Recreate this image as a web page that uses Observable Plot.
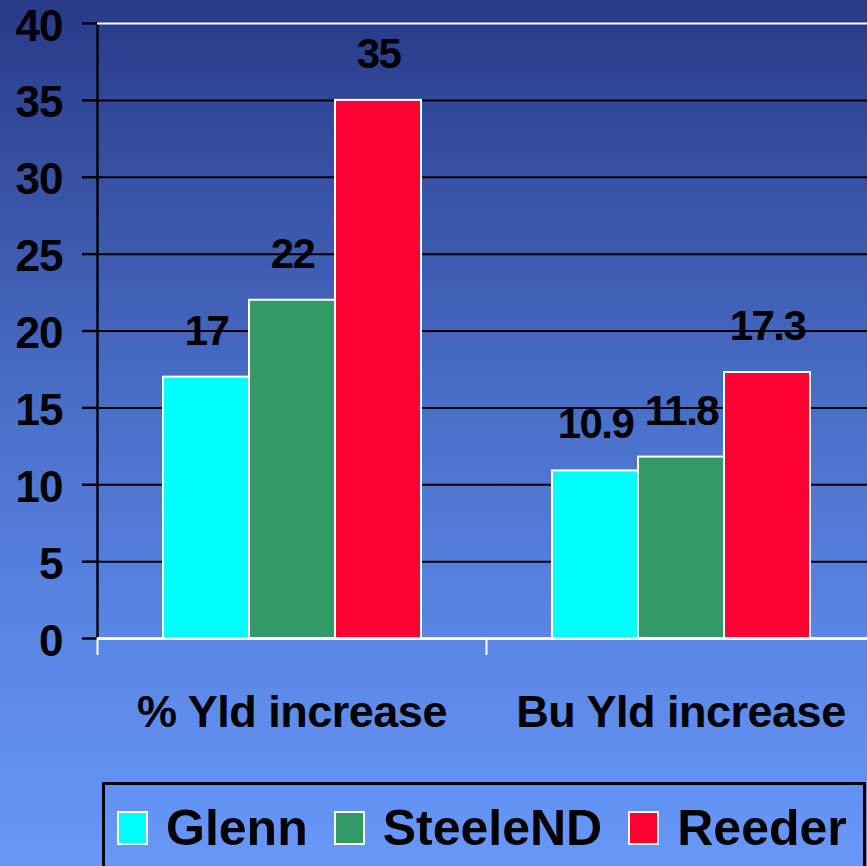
<!DOCTYPE html>
<html>
<head>
<meta charset="utf-8">
<script src="https://cdn.jsdelivr.net/npm/d3@7"></script>
<script src="https://cdn.jsdelivr.net/npm/@observablehq/plot@0.6"></script>
<style>
  html, body { margin: 0; padding: 0; }
  body { width: 867px; height: 866px; overflow: hidden;
         background: linear-gradient(to bottom, #283a88 0%, #3b56aa 25%, #4b72cc 50%, #5b88e6 76%, #6897fa 100%); }
  #wrap { position: relative; width: 867px; height: 866px; overflow: hidden;
          font-family: "Liberation Sans", Arial, sans-serif; font-weight: bold; }
  #chart svg { display: block; }
  g[aria-label="y-axis tick label"] { translate: 0 3px; }
  g[aria-label="y-axis tick label"] text { letter-spacing: -1px; }
  g[aria-label="fx-axis tick label"] text { letter-spacing: -0.5px; }
  g[aria-label="text"] text { letter-spacing: -1.5px; }
  #chart svg g[aria-label^="y-axis"] *,
  #chart svg g[aria-label="frame"] * { stroke-width: 2.4px !important; }
  #legend { position: absolute; left: 102px; top: 782px; width: 764px; height: 91px;
            border: 3px solid #000; display: flex; align-items: center; padding-left: 12px;
            box-sizing: border-box; }
  .item { display: flex; align-items: center; margin-right: 26px; }
  .sw { width: 27px; height: 30px; border: 2px solid #fff; margin-right: 18px; }
  .lab { font-size: 50px; color: #000; line-height: 1; }
</style>
</head>
<body>
<div id="wrap">
  <div id="chart"></div>
  <div id="legend"></div>
</div>
<script>
const groups = ["% Yld increase", "Bu Yld increase"];
const series = ["Glenn", "SteeleND", "Reeder"];
const glennValues = [17, 10.9];
const steeleValues = [22, 11.8];
const reederValues = [35, 17.3];
const colors = ["#00FFFF", "#339966", "#FF0033"];
const yTicks = [0, 5, 10, 15, 20, 25, 30, 35, 40];

const valuesBySeries = [glennValues, steeleValues, reederValues];
const data = groups.flatMap((g, i) =>
  series.map((s, j) => ({ group: g, series: s, value: valuesBySeries[j][i] }))
);

const chart = Plot.plot({
  width: 867,
  height: 770,
  marginTop: 23,
  marginBottom: 132,
  marginLeft: 97,
  marginRight: -8,
  style: {
    background: "transparent",
    color: "black",
    fontFamily: "'Liberation Sans', Arial, sans-serif",
    fontWeight: "bold",
    fontSize: "44px",
    overflow: "visible"
  },
  fx: { domain: groups, padding: 0, label: null },
  x: { domain: series, paddingInner: 0, paddingOuter: 0.736, axis: null },
  y: { domain: [0, 40], ticks: yTicks, tickSize: 15, tickPadding: 20, line: true, label: null },
  color: { domain: series, range: colors },
  marks: [
    Plot.ruleY(yTicks.filter(t => t > 0 && t < 40), { stroke: "black", strokeWidth: 2 }),
    Plot.ruleY([40], { stroke: "white", strokeWidth: 2 }),
    Plot.barY(data, { fx: "group", x: "series", y: "value", fill: "series", stroke: "white", strokeWidth: 2 }),
    Plot.text(data, { fx: "group", x: "series", y: "value", text: d => String(d.value),
      dy: -46, fontSize: 42, fontWeight: "bold", lineAnchor: "middle", fill: "black" }),
    Plot.ruleY([0], { stroke: "white", strokeWidth: 3 }),
    Plot.axisFx({ anchor: "bottom", tickSize: 17, fill: "none", stroke: "white", strokeWidth: 2, dx: -194.5, label: null }),
    Plot.axisFx({ anchor: "bottom", tickSize: 0, tickPadding: 57, fontSize: 45, fontWeight: "bold", label: null })
  ]
});
document.getElementById("chart").append(chart);

const legend = document.getElementById("legend");
series.forEach((s, i) => {
  const item = document.createElement("div");
  item.className = "item";
  const sw = document.createElement("div");
  sw.className = "sw";
  sw.style.background = colors[i];
  const lab = document.createElement("span");
  lab.className = "lab";
  lab.textContent = s;
  item.append(sw, lab);
  legend.append(item);
});
</script>
</body>
</html>
